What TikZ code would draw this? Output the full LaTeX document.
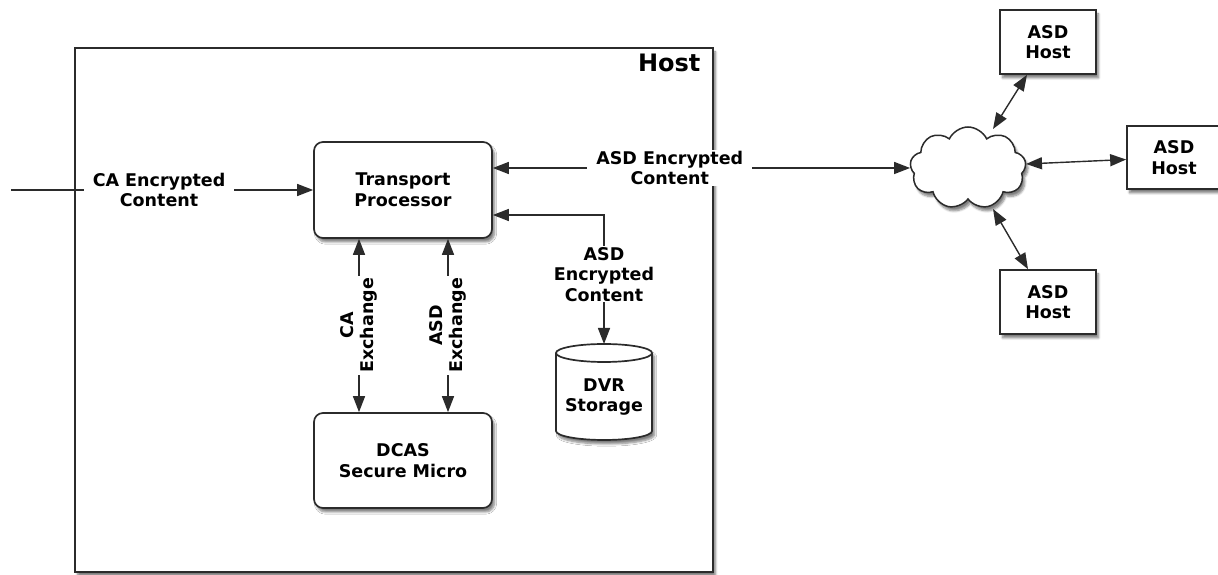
\documentclass[tikz,border=0pt]{standalone}
\usepackage{fontspec}
\setmainfont{DejaVu Sans}
\usetikzlibrary{arrows.meta,shapes.symbols,shadows.blur,calc}
\definecolor{ink}{HTML}{2B2B2B}
\tikzset{
  x=1pt, y=1pt,
  every node/.style={font=\bfseries\fontsize{17.5}{20.5}\selectfont, text=black, align=center},
  shad/.style={blur shadow={shadow xshift=2.5pt, shadow yshift=-4pt, shadow blur steps=6, shadow opacity=50}},
  boxline/.style={draw=ink, line width=1.7pt},
  rbox/.style={boxline, fill=white, rounded corners=9pt, shad, inner sep=0pt},
  sbox/.style={boxline, fill=white, shad, inner sep=0pt},
  lbl/.style={fill=white, inner xsep=9pt, inner ysep=1pt},
  tip/.tip={Triangle[length=16pt,width=12pt]},
  arr/.style={draw=ink, line width=1.4pt, -tip},
  dbl/.style={draw=ink, line width=1.4pt, tip-tip}
}
\begin{document}
\begin{tikzpicture}
\useasboundingbox (0,0) rectangle (1218,575);
% host box
\node[sbox, minimum width=638pt, minimum height=524pt] (host) at (394,265) {};
\node[anchor=base east, font=\bfseries\fontsize{24}{28}\selectfont] (hostlabel) at (704,503) {Host};

% inner boxes
\node[rbox, minimum width=178pt, minimum height=96pt] (transport) at (403,385) {Transport\\Processor};
\node[rbox, minimum width=178pt, minimum height=95pt] (dcas) at (403,114.5) {DCAS\\Secure Micro};

% DVR cylinder
\draw[boxline, fill=white, shad] (556,222) -- (556,144)
  arc[start angle=180, end angle=360, x radius=48pt, y radius=9pt] -- (652,222)
  arc[start angle=0, end angle=180, x radius=48pt, y radius=9pt] -- cycle;
\draw[boxline] (556,222) arc[start angle=180, end angle=360, x radius=48pt, y radius=9pt];
\node (dvr) at (604,178) {DVR\\Storage};
\coordinate (dvrtop) at (604,231);
\coordinate (dvrcorner) at (604,360);

% cloud and ASD hosts
\node[cloud, cloud puffs=9, cloud puff arc=130, cloud ignores aspect, boxline, line width=1.5pt, fill=white, shad,
      minimum width=116pt, minimum height=82pt, inner sep=0pt] (cloud) at (968,407) {};
\node[sbox, minimum width=96pt, minimum height=64pt] (tophost) at (1048,533) {ASD\\Host};
\node[sbox, minimum width=94pt, minimum height=63pt] (righthost) at (1174,417.5) {ASD\\Host};
\node[sbox, minimum width=96pt, minimum height=64pt] (bothost) at (1048,273) {ASD\\Host};

% connectors
\coordinate (cain) at (11,385);
\draw[arr] (cain) -- node[lbl, pos=0.49] {CA Encrypted\\Content} (transport.west);

\draw[dbl] (cloud.west) -- node[lbl, pos=0.576] {ASD Encrypted\\Content} (cloud.west -| transport.east);

\draw[dbl] (transport.east |- dvrcorner) -- (dvrcorner) -- node[lbl, pos=0.46] {ASD\\Encrypted\\Content} (dvrtop);

\draw[dbl] ($(transport.south)+(-44,0)$) -- node[lbl, rotate=90, inner xsep=2pt] {CA\\Exchange} ($(dcas.north)+(-44,0)$);
\draw[dbl] ($(transport.south)+(45,0)$) -- node[lbl, rotate=90, inner xsep=2pt] {ASD\\Exchange} ($(dcas.north)+(45,0)$);

\draw[dbl] ($(tophost.south)+(-21,0)$) -- ($(cloud.center)+(25,39)$);
\draw[dbl] ($(cloud.center)+(58,4)$) -- ($(righthost.west)+(0,-2)$);
\draw[dbl] ($(cloud.center)+(25,-41)$) -- ($(bothost.north)+(-20,0)$);
\end{tikzpicture}
\end{document}
